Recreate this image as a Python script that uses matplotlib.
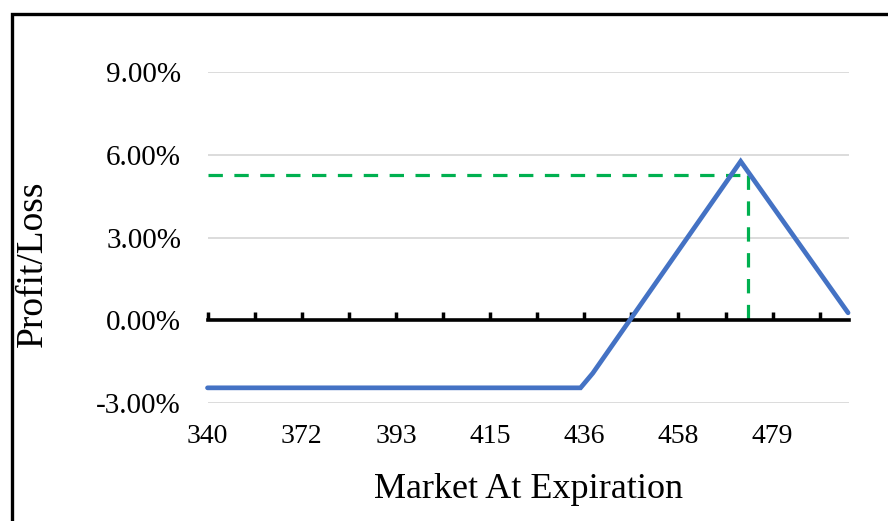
import matplotlib
matplotlib.use("Agg")
import matplotlib.pyplot as plt
from matplotlib.patches import Rectangle
from matplotlib.ticker import FuncFormatter

plt.rcParams['font.family'] = ['Liberation Serif', 'DejaVu Serif']

# # data (x in tick units of the category axis)
market_labels = ['340', '372', '393', '415', '436', '458', '479']
label_pos     = [0, 2, 4, 6, 8, 10, 12]
tick_pos      = list(range(14))

payoff_x   = [0, 7.92, 8.18, 11.32, 13.6]
payoff_pct = [-2.45, -2.45, -1.92, 5.76, 0.27]

# green dashed marker (target level)
target_x   = 11.48
target_pct = 5.25

y_ticks = [-3, 0, 3, 6, 9]
ymin, ymax = -3, 9
xmin, xmax = 0, 13.62

blue  = '#4472C4'
green = '#00B050'
grid  = '#D9D9D9'

fig = plt.figure(figsize=(8.88, 5.21), dpi=100)
ax  = fig.add_axes([207.5/888, 118/521, 641.5/888, 331/521])

ax.set_xlim(xmin, xmax)
ax.set_ylim(ymin, ymax)

# gridlines
ax.set_yticks(y_ticks)
ax.yaxis.set_major_formatter(FuncFormatter(lambda v, p: '{0:.2f}%'.format(v)))
ax.grid(axis='y', color=grid, lw=1.3, zorder=0)
ax.grid(axis='x', visible=False)
for s in ax.spines.values():
    s.set_visible(False)

ax.set_xticks(label_pos)
ax.set_xticklabels(market_labels)
ax.tick_params(axis='both', length=0, labelsize=20)
ax.tick_params(axis='y', labelsize=21, pad=19)
ax.tick_params(axis='x', pad=15)

# zero axis line with tick marks
zero_frac = (0 - ymin) / (ymax - ymin)
sec = ax.secondary_xaxis(zero_frac)
sec.set_xticks(tick_pos)
sec.tick_params(direction='in', length=6, width=2.5, color='black', labelbottom=False, labeltop=False)
sec.spines['bottom'].set_linewidth(2.6)
sec.spines['bottom'].set_color('black')
sec.set_zorder(3)

# target dashed lines
ax.plot([xmin, target_x], [target_pct, target_pct], color=green, lw=2.3,
        dashes=(4.5, 3.6), zorder=2)
ax.plot([target_x, target_x], [target_pct, 0], color=green, lw=2.3,
        dashes=(4.5, 3.6), zorder=2)

# payoff line
ax.plot(payoff_x, payoff_pct, color=blue, lw=3.4, solid_capstyle='round',
        solid_joinstyle='miter', zorder=4, clip_on=False)

ax.set_xlabel('Market At Expiration', fontsize=26)
ax.set_ylabel('Profit/Loss', fontsize=27)
ax.xaxis.set_label_coords(0.5, -0.21)
ax.yaxis.set_label_coords(-0.245, 0.42)

# black frame (top and left edges of the screenshot)
fig.patches.append(Rectangle((11.5/888, -0.5), 2.0, 0.5 + 1 - 13.5/521,
                             transform=fig.transFigure, fill=False,
                             ec='black', lw=2.4))

fig.savefig('out.png', dpi=100)
